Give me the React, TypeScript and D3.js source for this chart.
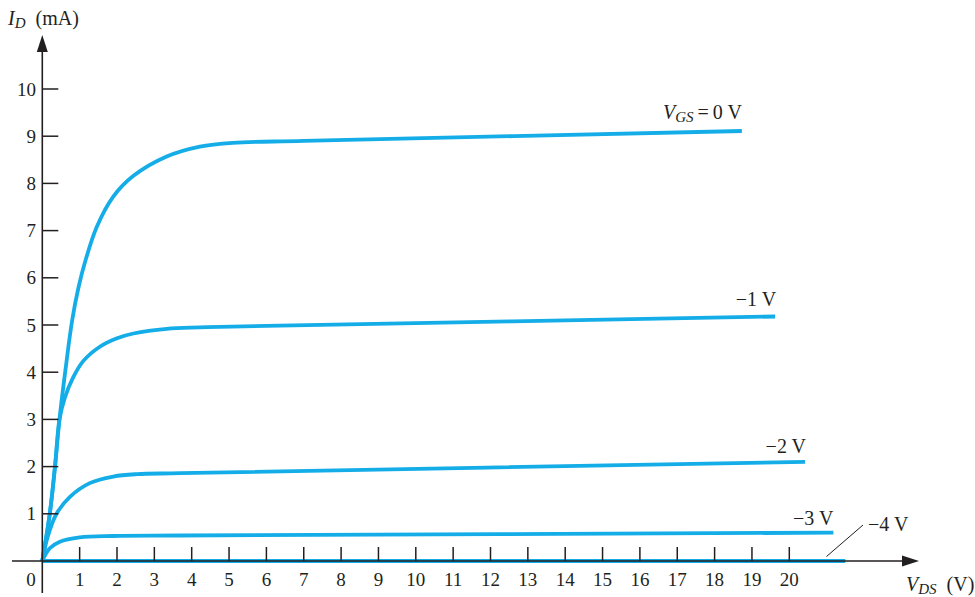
import React from "react";
import * as d3 from "d3";

const W = 975;
const H = 597;

const xTicks = [1, 2, 3, 4, 5, 6, 7, 8, 9, 10, 11, 12, 13, 14, 15, 16, 17, 18, 19, 20];
const yTicks = [1, 2, 3, 4, 5, 6, 7, 8, 9, 10];

// VDS (V), ID (mA)
const vgs0: [number, number][] = [
  [0, 0], [0.2, 1.0], [0.34, 2.0], [0.46, 3.0], [0.62, 4.05], [0.8, 5.1], [0.97, 5.8],
  [1.15, 6.35], [1.46, 7.08], [1.9, 7.72], [2.44, 8.16], [3.33, 8.57], [4.22, 8.78],
  [5.1, 8.86], [7, 8.9], [18.73, 9.11],
];
const vgs1: [number, number][] = [
  [0, 0], [0.2, 1.0], [0.34, 2.0], [0.46, 3.0], [0.6, 3.45], [0.82, 3.88], [1.1, 4.24],
  [1.54, 4.54], [2.0, 4.72], [2.44, 4.82], [3.33, 4.92], [4.22, 4.95], [6, 4.98], [19.62, 5.18],
];
const vgs2: [number, number][] = [
  [0, 0], [0.14, 0.5], [0.38, 1.0], [0.74, 1.36], [1.27, 1.65], [1.9, 1.79],
  [2.53, 1.84], [3.69, 1.86], [20.42, 2.1],
];
const vgs3: [number, number][] = [
  [0, 0], [0.2, 0.27], [0.47, 0.41], [1.0, 0.5], [1.9, 0.53], [3.69, 0.54], [21.18, 0.6],
];
const vgs4: [number, number][] = [
  [0, 0], [21.5, 0],
];

const curveLabels = ["VGS = 0 V", "−1 V", "−2 V", "−3 V", "−4 V"];

const INK = "#231f20";
const BLUE = "#14ade8";
const FONT = "'Liberation Serif', 'Times New Roman', serif";

export default function App() {
  const x = d3.scaleLinear().domain([0, 20]).range([42.3, 789.3]);
  const y = d3.scaleLinear().domain([0, 10]).range([561, 89]);
  const line = d3
    .line<[number, number]>()
    .x((d) => x(d[0]))
    .y((d) => y(d[1]))
    .curve(d3.curveCatmullRom.alpha(0.5));

  const x0 = x(0);
  const y0 = y(0);
  const curves = [vgs0, vgs1, vgs2, vgs3];

  const end = (c: [number, number][]) => c[c.length - 1];

  return (
    <svg
      width={W}
      height={H}
      style={{ position: "absolute", left: 0, top: 0, background: "#fff" }}
      fontFamily={FONT}
    >
      <rect width={W} height={H} fill="#fff" />
      {/* -4 V along axis */}
      <path d={line(vgs4) || ""} fill="none" stroke={BLUE} strokeWidth={4} />
      {curves.map((c, i) => (
        <path key={i} d={line(c) || ""} fill="none" stroke={BLUE} strokeWidth={3.8} strokeLinecap="butt" strokeLinejoin="round" />
      ))}

      {/* axes */}
      <line x1={x0} x2={x0} y1={48} y2={593} stroke={INK} strokeWidth={1.6} />
      <path d={`M${x0},35 L${x0 - 5.5},52 L${x0 + 5.5},52 Z`} fill={INK} />
      <line x1={12} x2={908} y1={y0} y2={y0} stroke={INK} strokeWidth={1.6} />
      <path d={`M919,${y0} L902,${y0 - 5.5} L902,${y0 + 5.5} Z`} fill={INK} />

      {xTicks.map((t) => (
        <g key={"x" + t}>
          <line x1={x(t)} x2={x(t)} y1={y0} y2={y0 - 14} stroke={INK} strokeWidth={1.5} />
          <text x={x(t)} y={586} textAnchor="middle" fontSize={19} fill={INK}>
            {t}
          </text>
        </g>
      ))}
      <text x={31} y={586} textAnchor="middle" fontSize={19} fill={INK}>0</text>

      {yTicks.map((t) => (
        <g key={"y" + t}>
          <line x1={x0} x2={x0 + 16} y1={y(t)} y2={y(t)} stroke={INK} strokeWidth={1.5} />
          <text x={36} y={y(t) + 6.5} textAnchor="end" fontSize={19} fill={INK}>
            {t}
          </text>
        </g>
      ))}

      {/* axis titles */}
      <text x={8} y={25} fontSize={20} fill={INK}>
        <tspan fontStyle="italic">I</tspan>
        <tspan fontStyle="italic" fontSize={15} dy={3}>D</tspan>
        <tspan dy={-3}>{"\u2002(mA)"}</tspan>
      </text>
      <text x={906} y={591} fontSize={20} fill={INK}>
        <tspan fontStyle="italic">V</tspan>
        <tspan fontStyle="italic" fontSize={15} dy={3}>DS</tspan>
        <tspan dy={-3}>{"\u2002(V)"}</tspan>
      </text>

      {/* curve labels */}
      <text x={x(end(vgs0)[0])} y={119} textAnchor="end" fontSize={20} fill={INK}>
        <tspan fontStyle="italic">V</tspan>
        <tspan fontStyle="italic" fontSize={15} dy={3}>GS</tspan>
        <tspan dy={-3}>{"\u2009=\u20090 V"}</tspan>
      </text>
      <text x={x(end(vgs1)[0]) + 1} y={306} textAnchor="end" fontSize={20} fill={INK}>{curveLabels[1]}</text>
      <text x={x(end(vgs2)[0]) + 1} y={453} textAnchor="end" fontSize={20} fill={INK}>{curveLabels[2]}</text>
      <text x={x(end(vgs3)[0])} y={525} textAnchor="end" fontSize={20} fill={INK}>{curveLabels[3]}</text>
      <text x={868} y={531} textAnchor="start" fontSize={20} fill={INK}>{curveLabels[4]}</text>
      <line x1={826.5} y1={556.5} x2={863} y2={525} stroke={INK} strokeWidth={1} />
    </svg>
  );
}
